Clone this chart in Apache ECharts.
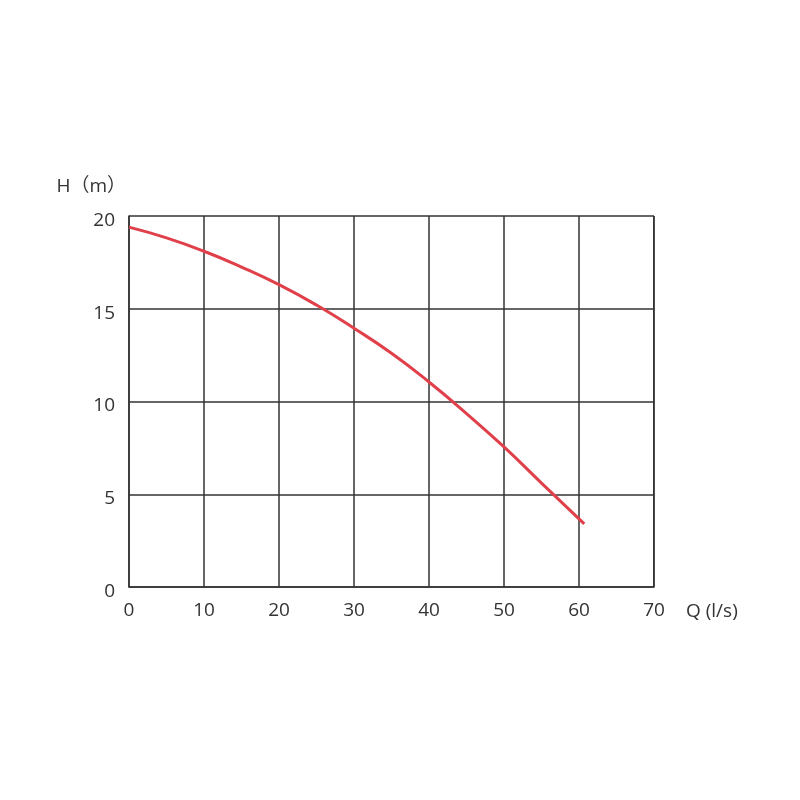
<!DOCTYPE html>
<html><head><meta charset="utf-8">
<script src="https://cdn.jsdelivr.net/npm/echarts@6/dist/echarts.min.js"></script>
<style>html,body{margin:0;padding:0;background:#fff}#c{width:800px;height:800px}</style>
</head><body><div id="c"></div>
<script>
const flowQ = [0, 5, 10, 15, 20, 25, 30, 35, 40, 45, 50, 55, 60.7];
const headH = [19.4, 18.82, 18.1, 17.25, 16.3, 15.2, 13.95, 12.6, 11.05, 9.35, 7.55, 5.6, 3.4];
const xTicks = [0, 10, 20, 30, 40, 50, 60, 70];
const yTicks = [0, 5, 10, 15, 20];

const chart = echarts.init(document.getElementById('c'));
const axisColor = '#333';
const font = '"Open Sans", "Noto Sans CJK SC", sans-serif';
chart.setOption({
  animation: false,
  grid: { left: 129, right: 146, top: 216, bottom: 213 },
  xAxis: {
    type: 'value', min: 0, max: 70, interval: 10,
    name: 'Q (l/s)', nameLocation: 'end', nameGap: 32,
    nameTextStyle: { color: axisColor, fontSize: 19, fontFamily: font, verticalAlign: 'top', padding: [15, 0, 0, 0] },
    axisLine: { show: true, lineStyle: { color: axisColor, width: 1.5 } },
    axisTick: { show: false },
    splitLine: { show: true, lineStyle: { color: axisColor, width: 1.5 } },
    axisLabel: { color: axisColor, fontSize: 19, fontFamily: font, margin: 14 }
  },
  yAxis: {
    type: 'value', min: 0, max: 20, interval: 5,
    name: 'H（m）', nameLocation: 'end', nameGap: 20,
    nameTextStyle: { color: axisColor, fontSize: 19, fontFamily: font, align: 'right', padding: [0, 3, 0, 0] },
    axisLine: { show: true, lineStyle: { color: axisColor, width: 1.5 } },
    axisTick: { show: false },
    splitLine: { show: true, lineStyle: { color: axisColor, width: 1.5 } },
    axisLabel: {
      color: axisColor, fontSize: 19, fontFamily: font, margin: 14,
      formatter: '{a|{value}}',
      rich: { a: { color: axisColor, fontSize: 19, fontFamily: font, padding: [9, 0, 0, 0] } }
    }
  },
  series: [{
    type: 'line', smooth: true, symbol: 'none',
    data: flowQ.map((q, i) => [q, headH[i]]),
    lineStyle: { color: '#e0404a', width: 3 }
  }]
});
chart.setOption({ graphic: [{ type: 'rect', shape: { x: 653, y: 216, width: 1.5, height: 371 }, style: { fill: axisColor }, z: 10 }] });
</script></body></html>
